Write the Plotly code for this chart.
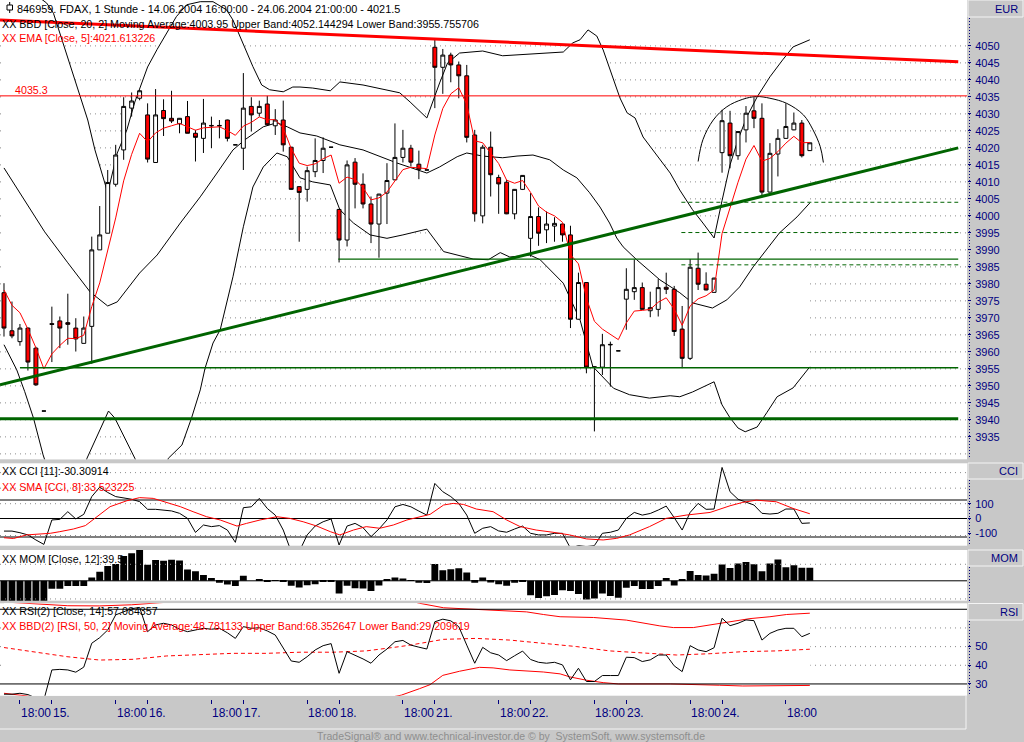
import plotly.graph_objects as go

W, H = 1024, 742
FONT = "Liberation Sans, Arial, sans-serif"
NAVY = "#000080"
GREEN = "#006400"
GRAY_BG = "#C8C8C8"
DOT_GRAY = "#8C8C8C"
DOTS = "1px,4px"

# ---------------- data (bar 0 = 14.06.2004 16:00, 1 h bars) ----------------
bar_idx = list(range(102))

opens = [
    3977.4, 3966.2, 3963.0, 3967.0, 3961.1, 3942.6, 3968.3, 3969.1, 3968.6, 3967.0,
    3962.5, 3967.5, 3990.0, 3994.9, 4009.3, 4019.4, 4031.7, 4034.6, 4029.7, 4015.7,
    4031.0, 4028.7, 4027.1, 4029.2, 4024.3, 4022.8, 4026.6, 4026.6, 4028.2, 4020.9,
    4019.9, 4032.2, 4030.2, 4032.9, 4026.5, 4028.2, 4020.2, 4008.6, 4007.8, 4013.0,
    4016.3, 4020.2, 4001.9, 3992.9, 4015.8, 4009.3, 4003.5, 3997.6, 4006.7, 4010.6,
    4017.2, 4019.9, 4015.2, 4013.5, 4049.6, 4043.7, 4047.3, 4044.4, 4041.2, 4023.8,
    4000.0, 4020.2, 4011.3, 4009.9, 4000.6, 4007.8, 3993.4, 3999.8, 3995.9, 3997.0,
    3997.6, 3994.4, 3969.6, 3980.4, 3955.6, 3955.5, 3962.2, 3960.3, 3975.5, 3977.7,
    3978.9, 3972.1, 3972.5, 3979.0, 3978.4, 3966.7, 3958.1, 3984.6, 3979.9, 3977.5,
    4018.6, 4027.3, 4017.7, 4025.3, 4030.9, 4028.7, 4007.0, 4018.2, 4022.8, 4025.3,
    4027.3, 4019.2,
]
highs = [
    3980.2, 3974.8, 3968.2, 3967.2, 3961.5, 3942.6, 3973.3, 3970.4, 3977.1, 3969.9,
    3970.4, 3993.9, 4002.9, 4013.5, 4020.9, 4034.9, 4036.3, 4037.0, 4033.1, 4037.3,
    4034.3, 4036.8, 4028.8, 4033.8, 4025.3, 4034.4, 4029.2, 4028.2, 4028.3, 4020.9,
    4042.0, 4034.9, 4033.9, 4035.3, 4031.4, 4033.9, 4020.3, 4008.7, 4014.5, 4022.8,
    4023.1, 4020.2, 4002.0, 4016.3, 4017.0, 4012.5, 4005.7, 4006.5, 4015.5, 4027.2,
    4025.3, 4020.9, 4019.2, 4013.5, 4051.8, 4049.1, 4048.0, 4045.4, 4044.4, 4025.3,
    4020.9, 4024.8, 4012.1, 4010.6, 4007.9, 4012.0, 4006.7, 4002.5, 4001.3, 3999.6,
    3997.7, 3997.1, 3983.3, 3980.5, 3955.7, 3965.3, 3963.0, 3960.3, 3984.6, 3987.2,
    3980.4, 3977.7, 3981.4, 3983.3, 3979.4, 3973.5, 3987.3, 3989.2, 3983.4, 3981.8,
    4031.2, 4030.9, 4024.9, 4032.3, 4034.9, 4033.1, 4021.4, 4025.5, 4033.1, 4030.4,
    4028.2, 4021.5,
]
lows = [
    3964.5, 3964.0, 3961.8, 3954.5, 3950.0, 3942.6, 3957.0, 3961.1, 3962.1, 3960.1,
    3962.5, 3956.5, 3990.0, 3994.9, 4008.6, 4016.5, 4029.2, 4034.0, 4015.7, 4015.7,
    4023.5, 4027.3, 4024.3, 4024.3, 4016.0, 4018.5, 4019.9, 4022.8, 4021.9, 4020.9,
    4013.5, 4024.8, 4029.2, 4026.5, 4023.8, 4018.9, 4007.6, 3992.4, 4004.2, 4011.4,
    4012.6, 4020.2, 3986.3, 3991.0, 4002.2, 4002.2, 3992.0, 3987.7, 3997.6, 4010.5,
    4015.7, 4014.5, 4010.8, 4013.5, 4031.7, 4035.9, 4039.3, 4034.6, 4021.6, 3998.3,
    3997.8, 4005.7, 4000.6, 4000.5, 3999.0, 4007.6, 3988.0, 3991.2, 3992.0, 3992.4,
    3992.4, 3967.0, 3969.5, 3953.7, 3936.6, 3953.2, 3949.8, 3960.3, 3966.5, 3975.3,
    3972.4, 3970.2, 3970.4, 3977.0, 3964.7, 3955.2, 3957.6, 3978.2, 3978.1, 3977.4,
    4012.7, 4014.0, 4016.5, 4021.6, 4025.8, 4006.0, 4006.9, 4011.6, 4022.7, 4025.2,
    4017.2, 4019.1,
]
closes = [
    3967.0, 3964.7, 3967.0, 3957.0, 3950.3, 3942.6, 3968.1, 3967.0, 3968.1, 3963.8,
    3967.0, 3990.0, 3994.4, 4009.8, 4017.9, 4032.2, 4033.8, 4036.8, 4016.7, 4029.7,
    4028.6, 4027.9, 4028.7, 4024.3, 4023.1, 4027.3, 4026.5, 4026.5, 4022.8, 4020.9,
    4031.7, 4029.7, 4032.2, 4026.8, 4028.2, 4020.9, 4007.8, 4006.9, 4013.3, 4016.3,
    4019.9, 4020.2, 3992.9, 4015.0, 4009.3, 4003.5, 3997.6, 4006.4, 4010.4, 4017.2,
    4019.9, 4015.8, 4013.7, 4013.5, 4043.7, 4047.3, 4044.4, 4041.2, 4023.1, 4000.6,
    4020.2, 4012.1, 4009.4, 4000.6, 4007.8, 4011.9, 3999.8, 3994.9, 3997.6, 3997.8,
    3994.4, 3969.6, 3980.4, 3955.5, 3955.5, 3962.1, 3962.1, 3960.3, 3978.4, 3978.9,
    3972.5, 3973.0, 3978.9, 3978.4, 3966.0, 3958.1, 3984.9, 3979.9, 3978.2, 3981.7,
    4028.0, 4017.7, 4024.8, 4030.2, 4028.7, 4007.0, 4018.4, 4022.8, 4026.3, 4027.3,
    4017.7, 4021.5,
]
ema5 = [
    3978.2, 3973.7, 3971.5, 3966.7, 3961.2, 3955.0, 3959.4, 3961.9, 3964.0, 3963.9,
    3964.9, 3973.3, 3980.3, 3990.1, 3999.4, 4010.3, 4018.1, 4024.3, 4021.8, 4024.4,
    4025.8, 4026.5, 4027.2, 4026.2, 4025.2, 4025.9, 4026.1, 4026.2, 4025.1, 4023.7,
    4026.4, 4027.5, 4029.1, 4028.3, 4028.3, 4025.8, 4019.8, 4015.5, 4014.8, 4015.3,
    4016.8, 4017.9, 4009.6, 4011.4, 4010.7, 4008.3, 4004.7, 4005.3, 4007.0, 4010.4,
    4013.6, 4014.3, 4014.1, 4013.9, 4023.8, 4031.6, 4035.9, 4037.7, 4032.8, 4022.1,
    4021.5, 4018.4, 4015.4, 4010.5, 4009.6, 4010.4, 4006.9, 4002.9, 4001.1, 4000.0,
    3998.1, 3988.6, 3985.9, 3975.8, 3969.0, 3966.7, 3965.2, 3963.6, 3968.5, 3972.0,
    3972.2, 3972.5, 3974.6, 3975.9, 3972.6, 3967.8, 3973.5, 3975.6, 3976.5, 3978.2,
    3994.8, 4002.4, 4009.9, 4016.7, 4020.7, 4016.1, 4016.9, 4018.9, 4021.4, 4023.4,
    4021.5, 4021.6,
]

# Bollinger band (20, 2) vertices: (bar, price)
bb_upper_pts = [
    (0, 4068), (2, 4067), (4, 4065), (5.35, 4062.6), (6.2, 4059.6), (7.0, 4053.7),
    (8.1, 4045.9), (9.5, 4035.0), (10.5, 4028.2), (11.4, 4019.4), (13.0, 4006.8),
    (14.2, 4018.5), (15.4, 4025.3), (16.4, 4033.5), (17.3, 4039.1), (18.0, 4043.8),
    (19.2, 4049.0), (20.4, 4053.7), (21.6, 4058.6), (22.9, 4062.1), (24.6, 4063.0),
    (26.2, 4063.0), (27.9, 4060.6), (28.7, 4057.6), (30.0, 4050.5), (31.2, 4043.9),
    (32.3, 4038.5), (33.3, 4037.1), (35.0, 4036.5), (36.2, 4037.9), (37.1, 4037.9),
    (38.7, 4037.6), (40.9, 4036.8), (42.1, 4039.4), (45.0, 4038.5), (48.1, 4037.1),
    (49.6, 4036.2), (50.9, 4033.5), (53.0, 4028.8), (54.6, 4039.1), (55.6, 4045.0),
    (57.1, 4047.9), (60.0, 4048.5), (62.5, 4047.1), (65.0, 4047.4), (68.0, 4047.9),
    (70.1, 4048.2), (71.3, 4050.9), (72.2, 4051.8), (73.2, 4054.7), (74.3, 4052.9),
    (75.1, 4048.8), (76.3, 4040.9), (77.2, 4034.7), (78.1, 4030.3), (79.1, 4028.8),
    (80.1, 4023.2), (81.3, 4019.4), (82.6, 4015.6), (83.5, 4012.6), (84.7, 4007.6),
    (86.3, 4001.8), (87.6, 3997.9), (89.0, 3993.5), (90.0, 4004.5), (91.0, 4015.0),
    (92.0, 4022.4), (93.1, 4029.1), (94.4, 4035.0), (96.0, 4040.9), (97.6, 4045.9),
    (98.9, 4049.7), (101, 4051.8),
]
bb_mid_pts = [
    (0, 4014.1), (5.1, 3995.3), (8.0, 3986.2), (10.8, 3977.6), (13.0, 3973.5),
    (14.2, 3974.7), (17.0, 3983.2), (19.2, 3988.5), (22.1, 3997.9), (24.6, 4005.6),
    (26.7, 4012.6), (28.7, 4019.4), (30.2, 4022.4), (32.5, 4026.2), (34.2, 4027.4),
    (35.5, 4026.2), (37.1, 4024.4), (39.2, 4023.5), (42.1, 4020.9), (45.0, 4019.4),
    (49.2, 4015.6), (51.8, 4013.5), (53.0, 4012.6), (54.6, 4014.4), (56.8, 4017.4),
    (58.0, 4018.5), (60.0, 4017.6), (62.5, 4017.1), (64.3, 4017.6), (66.3, 4017.9),
    (68.4, 4016.5), (70.1, 4013.5), (71.8, 4011.2), (73.4, 4006.8), (74.7, 4002.6),
    (75.9, 3997.9), (76.8, 3993.5), (77.6, 3990.9), (79.3, 3987.1), (82.2, 3981.2),
    (84.7, 3977.4), (86.3, 3974.4), (88.8, 3972.9), (90.6, 3975.3), (92.2, 3979.1),
    (93.9, 3985.0), (95.6, 3990.0), (97.2, 3995.0), (99.4, 3999.7), (101, 4003.8),
]
bb_lower_pts = [
    (0, 3962.1), (1.6, 3954.7), (2.6, 3948.3), (3.7, 3940.5), (4.9, 3929.7),
    (6, 3922), (8, 3918), (9.5, 3922), (10.4, 3928.7), (12.0, 3937.1), (13.1, 3942.6),
    (13.9, 3940.5), (15.0, 3935.1), (16.4, 3928.7), (18, 3920), (19.5, 3922),
    (20.6, 3928.7), (22.3, 3932.6), (23.5, 3940.5), (24.6, 3948.8), (25.2, 3955.2),
    (26.2, 3962.6), (27.1, 3966.5), (28.7, 3982.1), (30.0, 3996.8), (31.2, 4008.5),
    (32.5, 4014.4), (34.2, 4018.5), (35.5, 4017.4), (37.1, 4011.2), (38.7, 4010.0),
    (40.9, 4009.1), (42.1, 4001.8), (43.8, 3997.9), (45.9, 3994.4), (48.0, 3993.4),
    (50.0, 3994.4), (53.0, 3996.1), (55.1, 3989.5), (56.7, 3988.5), (58.8, 3987.3),
    (60.7, 3987.1), (62.2, 3989.2), (63.4, 3987.9), (65.9, 3988.5), (67.2, 3987.1),
    (70.1, 3980.2), (72.2, 3969.4), (73.8, 3955.7), (76.4, 3949.3), (78.4, 3947.4),
    (80.9, 3946.4), (83.5, 3947.1), (84.7, 3946.8), (86.3, 3948.2), (89.0, 3951.2),
    (90.0, 3944.4), (91.0, 3940.6), (92.0, 3937.6), (92.9, 3936.5), (94.4, 3937.9),
    (95.6, 3942.1), (96.9, 3946.8), (98.9, 3949.4), (101, 3955.6),
]

# hand-drawn ellipse arc over the last day (bar, price)
arc_pts = [
    (87.0, 4016.0), (87.6, 4022.4), (88.9, 4028.2), (90.6, 4032.1), (92.6, 4034.3),
    (94.3, 4035.1), (96.0, 4034.6), (98.1, 4033.1), (100.2, 4029.7), (101.4, 4025.3),
    (102.3, 4020.4), (102.7, 4015.7),
]

# drawn trend lines / levels: ((bar0, price0), (bar1, price1))
trend_red = ((-0.5, 4057.6), (119.6, 4045.3))
trend_green = ((-0.5, 3950.3), (119.6, 4020.0))
level_red = 4035.3
level_green_thin = (2.0, 3955.3)
level_green_thick = (-0.5, 3940.3)
level_green_mid = (41.9, 3987.3)
levels_dashed = [4004.0, 3995.1, 3985.6]
dashed_start = 84.9
lines_end = 119.6

cci = [
    -85, -85, -96, -111, -145, -175, -10, -6, 46, -3,
    28, 148, 212, 176, 148, 141, 130, 114, 62, 62,
    57, 51, 35, 1, -94, -44, -55, -48, -78, -161,
    73, 79, 136, 68, 23, -78, -224, -224, -111, -51,
    -22, -3, -179, -51, -33, -62, -123, -71, -10, 79,
    95, 79, 50, 23, 237, 181, 148, 102, 23, -100,
    -66, -55, -84, -93, -71, -51, -100, -111, -111, -100,
    -100, -201, -183, -190, -183, -100, -93, -78, 1, 41,
    23, 34, 57, 84, 6, -78, 41, 102, 62, 64,
    345, 181, 130, 109, 91, 35, 30, 35, 64, 64,
    -33, -30,
]
cci_sma_pts = [
    (0, -130), (1.2, -135), (2.8, -111), (4.5, -107), (5.8, -100), (7.0, -89),
    (8.7, -71), (10.2, -48), (11.6, 12), (13.3, 80), (15.4, 120), (17.0, 141),
    (18.7, 136), (20.4, 109), (22.1, 80), (23.7, 46), (25.4, 12), (27.1, -10),
    (29.2, -51), (30.4, -33), (32.1, -10), (34.2, 12), (35.8, 1), (37.5, -22),
    (39.2, -51), (40.9, -89), (42.1, -111), (43.8, -78), (45.4, -55), (47.1, -66),
    (48.8, -44), (50.5, -10), (52.1, 12), (53.4, 28), (55.1, 91), (56.3, 102),
    (57.6, 95), (59.2, 64), (61.3, 46), (63.0, -10), (64.7, -55), (66.7, -78),
    (68.8, -93), (70.9, -111), (73.0, -138), (75.1, -145), (76.8, -134), (78.4, -111),
    (80.9, -55), (83.0, 1), (85.5, 23), (88.5, 41), (91.0, 86), (92.6, 109),
    (94.3, 124), (96.8, 113), (98.9, 68), (101, 32),
]
cci_levels = [125, 0, -125]
cci_grid = [310, 205, 100, -115]

mom = [
    -70, -70, -70, -70, -70, -70, -24, -24, -16, -16,
    -16, 10, 27.4, 45.1, 50.9, 75.2, 83.5, 94.2, 48.6, 62.7,
    60.5, 64.1, 61.7, 34.3, 28.7, 17.5, 8.6, -5.7, -11.0, -15.9,
    15.0, 0.0, 3.6, -1.1, -0.5, -3.4, -15.3, -20.4, -13.2, -10.2,
    -2.9, -0.7, -38.8, -14.7, -22.9, -23.3, -30.6, -14.5, 2.6, 10.3,
    6.6, -0.5, -6.2, -6.7, 50.8, 32.3, 35.1, 37.7, 25.5, -5.8,
    9.8, -5.1, -10.5, -15.2, -5.9, -1.6, -43.9, -52.4, -46.8, -43.4,
    -28.7, -31.0, -39.8, -56.6, -53.9, -38.5, -45.7, -51.6, -21.4, -16.0,
    -25.1, -24.8, -15.5, 8.8, -14.4, 2.6, 29.4, 17.8, 16.1, 21.4,
    49.6, 38.8, 52.3, 57.2, 49.8, 28.6, 52.4, 64.7, 41.4, 47.4,
    39.5, 39.5,
]
mom_grid = [50, -55]

rsi = [
    24.5, 24.5, 25.0, 24.3, 22.5, 21.5, 37.5, 37.8, 37.5, 36.3,
    39.0, 51.8, 54.8, 58.9, 67.0, 68.8, 70.3, 71.0, 58.0, 61.6,
    62.5, 61.6, 59.3, 58.0, 58.9, 59.8, 59.3, 59.8, 57.4, 54.4,
    60.7, 59.8, 60.1, 58.4, 56.2, 49.1, 42.3, 41.6, 44.6, 48.2,
    50.5, 51.6, 35.7, 47.3, 45.5, 43.4, 41.1, 45.5, 48.7, 52.6,
    53.3, 50.8, 49.7, 48.7, 63.3, 64.7, 63.8, 60.7, 50.8, 41.1,
    49.6, 46.7, 45.5, 42.5, 45.1, 47.6, 43.1, 41.6, 41.1, 41.6,
    40.2, 32.2, 38.4, 31.3, 31.3, 34.5, 34.5, 34.5, 44.3, 44.1,
    42.0, 42.9, 45.5, 45.5, 39.7, 36.6, 50.5, 48.2, 47.3, 49.4,
    65.2, 61.2, 62.5, 64.3, 63.9, 53.5, 57.1, 58.9, 59.8, 59.8,
    55.3, 57.1,
]
rsi_upper_pts = [
    (0, 73.9), (4, 72.9), (8, 71.9), (12, 71.8), (16, 72.4), (19.5, 73.5), (25, 75.0),
    (35, 76.0), (45, 75.5), (50.9, 74.5), (52.1, 73.2), (55.1, 70.8), (58.6, 70.1),
    (61.3, 69.4), (65.5, 68.6), (67.6, 67.2), (69.7, 66.0), (73.9, 65.6), (78.0, 64.2),
    (82.2, 61.1), (83.9, 60.2), (86.4, 60.2), (89.7, 62.3), (93.5, 65.0), (96.0, 66.0),
    (98.1, 67.2), (101, 67.9),
]
rsi_mid_pts = [
    (0, 49.5), (3.7, 47.3), (7.9, 44.6), (12, 42.8), (16.2, 43.2), (20.4, 45.0),
    (24.6, 45.9), (28.7, 46.4), (32.9, 46.4), (37.1, 47.0), (41.3, 47.0), (45.4, 47.7),
    (49.6, 50.0), (50.9, 50.8), (55.1, 53.9), (59.2, 54.4), (63.4, 53.5), (67.6, 51.8),
    (71.8, 50.0), (75.9, 47.7), (80.1, 46.4), (84.3, 45.5), (88.5, 46.2), (92.6, 47.3),
    (96.8, 47.7), (101, 48.6),
]
rsi_lower_pts = [
    (0, 25.0), (2, 24.0), (3, 23.5), (8, 17.3), (12, 13.8), (16, 14.0), (20, 16.5),
    (25, 16.8), (35, 17.6), (45, 19.9), (49.8, 24.0), (52.1, 27.5), (53.4, 29.6),
    (55.0, 34.6), (57.1, 36.8), (59.6, 38.9), (61.3, 38.6), (63.4, 37.5), (65.5, 37.0),
    (67.6, 36.4), (69.7, 35.4), (70.9, 33.8), (73.0, 32.0), (75.1, 30.7), (77.0, 30.0),
    (81.6, 30.0), (83.5, 30.0), (89.7, 29.3), (92.6, 28.9), (101, 29.2),
]
rsi_levels = [70, 30]
rsi_grid = [60, 50, 40]

price_ticks = list(range(3935, 4051, 5))
price_grid = list(range(3930, 4051, 5))
hour_ticks = [2, 14, 26, 38, 50, 62, 74, 86, 98]
day_ticks = [6, 18, 30, 42, 54, 66, 78, 90]
day_labels = ["15.", "16.", "17.", "18.", "21.", "22.", "23.", "24."]

x_rng = [-0.5, 120.7]


def px(x):
    return x / W


def py(y):
    return 1 - y / H


def xy(pts):
    return [p[0] for p in pts], [p[1] for p in pts]


def grid_trace(levels, xa, ya):
    # horizontal dotted grid lines as one broken scatter line
    gx, gy = [], []
    for lv in levels:
        gx += [x_rng[0], x_rng[1], None]
        gy += [lv, lv, None]
    return go.Scatter(x=gx, y=gy, mode="lines", xaxis=xa, yaxis=ya,
                      line=dict(color=DOT_GRAY, width=1, dash=DOTS))


def band_path(upper, lower):
    # closed outline: along the upper band, back along the lower band
    pts = list(upper) + list(reversed(lower))
    return "M " + " L ".join(f"{x},{y}" for x, y in pts) + " Z"


fig = go.Figure()

# ---- main panel band lines (white band area is a "between" shape further down)
thin = dict(color="black", width=1)
lx, ly = xy(bb_lower_pts)
ux, uy = xy(bb_upper_pts)
mx, my = xy(bb_mid_pts)
fig.add_trace(go.Scatter(x=lx, y=ly, mode="lines", line=thin, xaxis="x", yaxis="y"))
fig.add_trace(go.Scatter(x=ux, y=uy, mode="lines", line=thin, xaxis="x", yaxis="y"))
fig.add_trace(go.Scatter(x=mx, y=my, mode="lines", line=thin, xaxis="x", yaxis="y"))

# candles and EMA on an overlay axis
fig.add_trace(go.Candlestick(
    x=bar_idx, open=opens, high=highs, low=lows, close=closes,
    increasing=dict(line=dict(color="black", width=1), fillcolor="white"),
    decreasing=dict(line=dict(color="black", width=1), fillcolor="#FF0000"),
    whiskerwidth=0, xaxis="x", yaxis="y5", hoverinfo="skip",
))
fig.add_trace(go.Scatter(x=bar_idx, y=ema5, mode="lines",
                         line=dict(color="#FF0000", width=1), xaxis="x", yaxis="y5"))
ax_, ay_ = xy(arc_pts)
fig.add_trace(go.Scatter(x=ax_, y=ay_, mode="lines",
                         line=dict(color="black", width=1, shape="spline"),
                         xaxis="x", yaxis="y5"))

# ---- CCI
sx, sy = xy(cci_sma_pts)
fig.add_trace(grid_trace(cci_grid, "x2", "y2"))
fig.add_trace(go.Scatter(x=bar_idx, y=cci, mode="lines", line=thin, xaxis="x2", yaxis="y2"))
fig.add_trace(go.Scatter(x=sx, y=sy, mode="lines", line=dict(color="#FF0000", width=1),
                         xaxis="x2", yaxis="y2"))

# ---- MOM
fig.add_trace(grid_trace(mom_grid, "x3", "y3"))
fig.add_trace(go.Bar(x=bar_idx, y=mom, width=0.86,
                     marker=dict(color="black", line=dict(width=0)),
                     xaxis="x3", yaxis="y3"))

# ---- RSI: grid, white band area over it, then bands and RSI
rlx, rly = xy(rsi_lower_pts)
rux, ruy = xy(rsi_upper_pts)
rmx, rmy = xy(rsi_mid_pts)
red1 = dict(color="#FF0000", width=1)
fig.add_trace(grid_trace(rsi_grid, "x4", "y4"))
fig.add_trace(go.Scatter(x=rux + rlx[::-1], y=ruy + rly[::-1], mode="lines", fill="toself",
                         fillcolor="white", line=dict(color="white", width=1),
                         xaxis="x4", yaxis="y4"))
fig.add_trace(go.Scatter(x=rlx, y=rly, mode="lines", line=red1, xaxis="x4", yaxis="y4"))
fig.add_trace(go.Scatter(x=rux, y=ruy, mode="lines", line=red1, xaxis="x4", yaxis="y4"))
fig.add_trace(go.Scatter(x=rmx, y=rmy, mode="lines",
                         line=dict(color="#FF0000", width=1, dash="4px,3px"),
                         xaxis="x4", yaxis="y4"))
fig.add_trace(go.Scatter(x=bar_idx, y=rsi, mode="lines", line=thin, xaxis="x4", yaxis="y4"))

# ---------------- layout ----------------
x_dom = [0, px(967)]
main_dom = [py(459.3), py(0)]
cci_dom = [py(545.7), py(463.3)]
mom_dom = [py(600.7), py(550)]
rsi_dom = [py(695.7), py(603.3)]
main_rng = [3928.4, 4063.5]

tickfont = dict(family=FONT, size=11, color=NAVY)
xcommon = dict(domain=x_dom, range=x_rng, showgrid=False, zeroline=False,
               showticklabels=False, ticks="", fixedrange=True)
ycommon = dict(side="right", zeroline=False, showline=False, fixedrange=True, showgrid=False,
               ticks="outside", ticklen=3, tickcolor=NAVY, tickfont=tickfont,
               ticklabelstandoff=2)

fig.update_layout(
    width=W, height=H, autosize=False,
    margin=dict(l=0, r=0, t=0, b=0, pad=0),
    paper_bgcolor=GRAY_BG, plot_bgcolor="white",
    showlegend=False, hovermode=False,
    xaxis=dict(**xcommon, anchor="y", rangeslider=dict(visible=False)),
    xaxis2=dict(**xcommon, anchor="y2", matches="x"),
    xaxis3=dict(**xcommon, anchor="y3", matches="x"),
    xaxis4=dict(domain=x_dom, range=x_rng, matches="x", anchor="free", position=py(699),
                showgrid=False, zeroline=False, showticklabels=False, fixedrange=True,
                tickvals=hour_ticks + day_ticks, ticks="outside", ticklen=4,
                tickcolor=NAVY, showline=False),
    yaxis=dict(**ycommon, domain=main_dom, range=main_rng, anchor="x",
               tickvals=price_ticks, ticktext=[str(v) for v in price_ticks]),
    yaxis5=dict(domain=main_dom, range=main_rng, overlaying="y", anchor="x",
                visible=False, fixedrange=True),
    yaxis2=dict(**ycommon, domain=cci_dom, range=[-183.8, 373], anchor="x2",
                tickvals=[100, 0, -100], ticktext=["100", "0", "-100"]),
    yaxis3=dict(domain=mom_dom, range=[-60.3, 93.3], anchor="x3", side="right",
                showticklabels=False, showgrid=False, zeroline=False, fixedrange=True),
    yaxis4=dict(**ycommon, domain=rsi_dom, range=[23.7, 73.2], anchor="x4",
                tickvals=[50, 40, 30], ticktext=["50", "40", "30"]),
)

shapes = []


def seg(x0, y0, x1, y1, color, width, dash="solid", xref="x", yref="y", layer="above"):
    shapes.append(dict(type="line", x0=x0, y0=y0, x1=x1, y1=y1, xref=xref, yref=yref,
                       layer=layer, line=dict(color=color, width=width, dash=dash)))


# main: dotted grid below, white Bollinger area above it, traces on top
for lv in price_grid:
    seg(x_rng[0], lv, x_rng[1], lv, DOT_GRAY, 1, dash=DOTS, layer="below")
shapes.append(dict(type="path", path=band_path(bb_upper_pts, bb_lower_pts), xref="x", yref="y",
                   layer="between", fillcolor="white", line=dict(width=0)))

# main panel drawings
seg(trend_red[0][0], trend_red[0][1], trend_red[1][0], trend_red[1][1], "#FF0000", 3)
seg(x_rng[0], level_red, x_rng[1], level_red, "#FF0000", 1)
seg(trend_green[0][0], trend_green[0][1], trend_green[1][0], trend_green[1][1], GREEN, 3)
seg(level_green_thin[0], level_green_thin[1], lines_end, level_green_thin[1], GREEN, 1.5)
seg(level_green_thick[0], level_green_thick[1], lines_end, level_green_thick[1], GREEN, 3)
seg(level_green_mid[0], level_green_mid[1], lines_end, level_green_mid[1], GREEN, 1.3)
for lv in levels_dashed:
    seg(dashed_start, lv, lines_end, lv, GREEN, 1, dash="4px,3px")

# indicator level lines
for lv in cci_levels:
    seg(x_rng[0], lv, x_rng[1], lv, "black", 1, xref="x2", yref="y2", layer="below")
seg(x_rng[0], 0, x_rng[1], 0, "black", 1, xref="x3", yref="y3", layer="below")
for lv in rsi_levels:
    seg(x_rng[0], lv, x_rng[1], lv, "black", 1, xref="x4", yref="y4")

# right-hand axis column: dotted axis lines and label boxes
for y0, y1 in [(18, 459), (480, 546), (567, 601), (621, 696)]:
    seg(px(969.5), py(y0), px(969.5), py(y1), NAVY, 1, dash="1px,2px", xref="paper", yref="paper")
for y0, y1 in [(0, 17), (463, 479), (550, 566), (603.5, 620)]:
    shapes.append(dict(type="rect", xref="paper", yref="paper", x0=px(968), x1=px(1023),
                       y0=py(y1), y1=py(y0), line=dict(color="#F4F4F4", width=1),
                       fillcolor=GRAY_BG, layer="above"))

# x-axis strip border
seg(px(0), py(729), px(966), py(729), "#F4F4F4", 1, xref="paper", yref="paper")
seg(px(966), py(696), px(966), py(729), "#F4F4F4", 1, xref="paper", yref="paper")

# chart icon in the title
shapes.append(dict(type="rect", xref="paper", yref="paper", x0=px(7), x1=px(12.5),
                   y0=py(10), y1=py(5), line=dict(color="black", width=1), fillcolor="white"))
seg(px(9.7), py(2), px(9.7), py(5), "black", 1, xref="paper", yref="paper")
seg(px(9.7), py(10), px(9.7), py(13), "black", 1, xref="paper", yref="paper")

fig.update_layout(shapes=shapes)


def label(x, y, text, color="black", size=10.7, anchor="left"):
    fig.add_annotation(x=px(x), y=py(y), xref="paper", yref="paper", text=text, showarrow=False,
                       xanchor=anchor, yanchor="middle", borderpad=0,
                       font=dict(family=FONT, size=size, color=color))


label(16, 9, "846959. FDAX, 1 Stunde - 14.06.2004 16:00:00 - 24.06.2004 21:00:00 - 4021.5",
      size=10.9)
label(1, 24, "XX BBD [Close, 20, 2] Moving Average:4003.95 Upper Band:4052.144294 "
             "Lower Band:3955.755706")
label(1, 38, "XX EMA [Close, 5]:4021.613226", color="#FF0000")
label(14, 90, "4035.3", color="#FF0000")
label(1, 471, "XX CCI [11]:-30.30914")
label(1, 487, "XX SMA [CCI, 8]:33.523225", color="#FF0000")
label(1, 559, "XX MOM [Close, 12]:39.5")
label(1, 611, "XX RSI(2) [Close, 14]:57.084357")
label(1, 626, "XX BBD(2) [RSI, 50, 2] Moving Average:48.781133 Upper Band:68.352647 "
              "Lower Band:29.209619", color="#FF0000")
for yy, txt in [(8.5, "EUR"), (471.5, "CCI"), (558, "MOM"), (612, "RSI")]:
    label(1019, yy, txt, color=NAVY, size=11, anchor="right")
label(511, 736, "TradeSignal® and www.technical-investor.de © by  SystemSoft, www.systemsoft.de",
      color="#8E8E8E", size=10.5, anchor="center")

for i in hour_ticks:
    fig.add_annotation(x=i, xref="x4", y=py(713), yref="paper", text="18:00", showarrow=False,
                       xanchor="left", yanchor="middle", borderpad=0,
                       font=dict(family=FONT, size=12, color=NAVY))
for i, txt in zip(day_ticks, day_labels):
    fig.add_annotation(x=i, xref="x4", y=py(713), yref="paper", text=txt, showarrow=False,
                       xanchor="left", yanchor="middle", borderpad=0,
                       font=dict(family=FONT, size=12, color=NAVY))

fig.write_html("out.html", config={"displayModeBar": False},
               post_script="document.body.style.margin='0';")
